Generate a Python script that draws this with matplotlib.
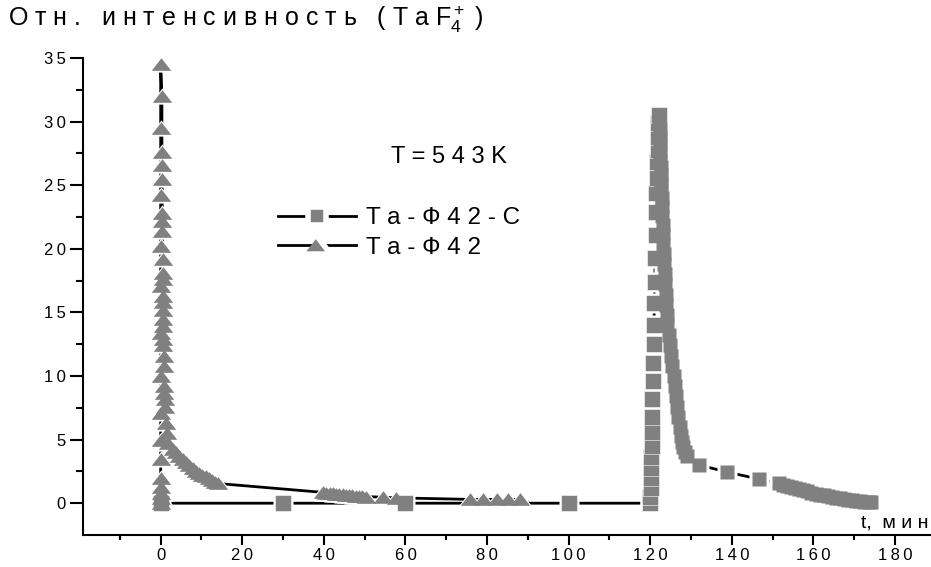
import matplotlib
matplotlib.use('Agg')
import matplotlib.pyplot as plt
from matplotlib.ticker import MultipleLocator, FixedLocator, FuncFormatter
from matplotlib.lines import Line2D

plt.rcParams['font.family'] = ['Liberation Sans', 'DejaVu Sans']
plt.rcParams['mathtext.fontset'] = 'custom'
plt.rcParams['mathtext.rm'] = 'Liberation Sans'
plt.rcParams['mathtext.it'] = 'Liberation Sans'

# Ta-Ф42-С (squares)
t_sq = [0, 30, 60, 100,
        120.0, 120.05, 120.1, 120.15, 120.2, 120.25, 120.3, 120.35, 120.45, 120.5,
        120.6, 120.7, 120.8, 120.9, 121.0, 121.1, 121.2, 121.3, 121.4, 121.5,
        121.6, 121.7, 121.8, 121.9, 122.0, 122.1,
        122.2, 122.25, 122.3, 122.35, 122.4, 122.45, 122.5, 122.55, 122.6, 122.65,
        122.7, 122.75, 122.8, 122.9, 123.0, 123.1, 123.2, 123.3, 123.4, 123.5,
        123.6, 123.75, 123.9, 124.05, 124.2,
        124.5, 124.8, 125.1, 125.4, 125.7, 126.0, 126.3, 126.6, 126.9, 127.2,
        127.5, 127.8, 128.1, 128.5, 128.9,
        132.0, 138.8, 146.6, 151.6,
        152.5, 153.5, 154.5, 155.5, 156.5, 157.5, 158.5, 159.5, 160.5, 161.5,
        162.5, 163.5, 164.5, 165.5, 166.5, 167.5, 168.5, 169.5, 170.5, 171.5,
        172.5, 173.5, 174.2]
i_sq = [0, 0, 0, 0,
        0, 0.5, 1.2, 2.0, 2.8, 3.6, 4.5, 5.6, 6.8, 8.2,
        9.6, 11.0, 12.5, 14.0, 15.7, 17.4, 19.3, 21.1, 22.9, 24.4,
        25.6, 26.8, 27.8, 28.8, 29.9, 30.5,
        30.5, 30.0, 29.4, 28.8, 28.2, 27.6, 27.0, 26.4, 25.8, 25.2,
        24.6, 24.0, 23.3, 22.6, 21.9, 21.2, 20.4, 19.6, 18.8, 18.0,
        17.2, 16.4, 15.6, 14.8, 14.0,
        13.2, 12.4, 11.6, 10.8, 10.0, 9.2, 8.4, 7.6, 6.8, 6.0,
        5.3, 4.8, 4.4, 4.0, 3.7,
        3.0, 2.45, 1.9, 1.55,
        1.47, 1.38, 1.29, 1.2, 1.11, 1.02, 0.93, 0.84, 0.76, 0.68,
        0.61, 0.55, 0.49, 0.43, 0.38, 0.33, 0.28, 0.23, 0.19, 0.15,
        0.12, 0.09, 0.08]

# Ta-Ф42 (triangles)
t_tr = [0, 0, 0, 0, 0, 0, 0, 0, 0, 0, 0, 0, 0, 0, 0,
        0.3, 0.3, 0.35, 0.35, 0.4, 0.4, 0.4, 0.45, 0.45, 0.5, 0.5, 0.5, 0.55,
        0.55, 0.6, 0.6, 0.65, 0.7, 0.75, 0.8, 0.9, 1.0, 1.1, 1.3, 1.5, 1.8,
        3.0, 3.8, 4.6, 5.4, 6.2, 7.0, 7.8, 8.6, 9.4, 10.2, 11.0, 11.8, 12.6,
        13.4, 14.0,
        39.8, 40.6, 41.4, 42.2, 43.0, 43.8, 44.6, 45.4, 46.2, 47.0, 47.8, 48.6,
        49.4, 50.2, 54.5, 57.7,
        75.8, 79.1, 82.4, 85.2, 88.1]
i_tr = [0, 0.4, 0.8, 1.3, 2.0, 3.5, 5.0, 7.1, 10.0, 13.4, 17.1, 20.2, 24.2, 29.5, 34.5,
        32.0, 27.6, 26.6, 25.5, 22.8, 22.2, 21.4, 19.2, 18.1, 17.6, 16.3, 15.8, 15.2,
        14.5, 13.9, 12.9, 12.4, 11.6, 10.8, 9.2, 8.7, 8.2, 7.6, 6.3, 5.5, 4.7,
        4.3, 4.0, 3.75, 3.5, 3.25, 3.0, 2.75, 2.55, 2.4, 2.25, 2.1, 1.95, 1.8,
        1.65, 1.55,
        0.85, 0.83, 0.8, 0.78, 0.75, 0.72, 0.7, 0.67, 0.65, 0.62, 0.6, 0.57,
        0.55, 0.52, 0.47, 0.42,
        0.3, 0.3, 0.3, 0.3, 0.3]

labels = ['T a - Ф 4 2 - С', 'T a - Ф 4 2']
grey = '#808080'
tri = [(-1, -0.65), (1, -0.65), (0, 0.65)]

fig = plt.figure(figsize=(9.31, 5.67), dpi=100)
ax = fig.add_axes([83/931, 32/567, 848/931, 477/567])

# lines, then white gaps round the markers, then the markers
ax.plot(t_sq, i_sq, color='black', lw=2, zorder=1)
ax.plot(t_tr, i_tr, color='black', lw=2, zorder=1)
ax.plot(t_sq, i_sq, ls='none', marker='s', ms=14.5, mfc='white', mec='none', zorder=2, clip_on=False)
ax.plot(t_tr, i_tr, ls='none', marker=tri, ms=18, mfc='white', mec='none', zorder=2, clip_on=False)
ax.plot(t_sq[:30], i_sq[:30], ls='none', marker='s', ms=11.5, mfc=grey, mec='white', mew=0.4, zorder=3, clip_on=False)
ax.plot(t_sq[30:], i_sq[30:], ls='none', marker='s', ms=10.5, mfc=grey, mec='none', zorder=3, clip_on=False)
ax.plot(t_tr, i_tr, ls='none', marker=tri, ms=14, mfc=grey, mec='none', zorder=4, clip_on=False)

ax.set_xlim(-19.04, 188.8)
ax.set_ylim(-2.5, 35)
for s in ['top', 'right']:
    ax.spines[s].set_visible(False)
for s in ['left', 'bottom']:
    ax.spines[s].set_linewidth(1.5)

ax.xaxis.set_major_locator(FixedLocator(range(0, 181, 20)))
ax.xaxis.set_minor_locator(FixedLocator(range(-10, 181, 20)))
ax.yaxis.set_major_locator(MultipleLocator(5))
ax.yaxis.set_minor_locator(FixedLocator([2.5 + 5*k for k in range(7)]))
spaced = FuncFormatter(lambda v, p: '\u2009'.join(str(int(round(v)))))
ax.xaxis.set_major_formatter(spaced)
ax.yaxis.set_major_formatter(spaced)
ax.tick_params(axis='both', which='major', labelsize=12, width=1.5, color='black')
ax.tick_params(axis='both', which='minor', width=1.5)
ax.tick_params(axis='y', which='major', length=9.5, pad=3)
ax.tick_params(axis='y', which='minor', length=5)
ax.tick_params(axis='x', which='major', length=7, pad=2)
ax.tick_params(axis='x', which='minor', length=3.6)

fig.text(8/931, 1 - 19/567, 'О т н .   и н т е н с и в н о с т ь   ( T a F$_4^+$ )',
         fontsize=18, ha='left', va='center')
ax.text(0.997, 0.025, 't,  м и н', transform=ax.transAxes, fontsize=14,
        ha='right', va='center')
ax.text(0.432, 0.792, 'T = 5 4 3 K', transform=ax.transAxes, fontsize=17,
        ha='center', va='center')

h_sq = Line2D([], [], color='black', lw=2, marker='s', ms=13, mfc=grey, mec='white', mew=4)
h_tr = Line2D([], [], color='black', lw=2, marker=tri, ms=19, mfc=grey, mec='white', mew=4)
ax.legend([h_sq, h_tr], labels, loc='center left', bbox_to_anchor=(0.23, 0.633),
          frameon=False, fontsize=17.5, handlelength=3.2, handletextpad=0.4,
          labelspacing=0.3, borderpad=0, borderaxespad=0, numpoints=1)

fig.savefig('out.png', dpi=100)
